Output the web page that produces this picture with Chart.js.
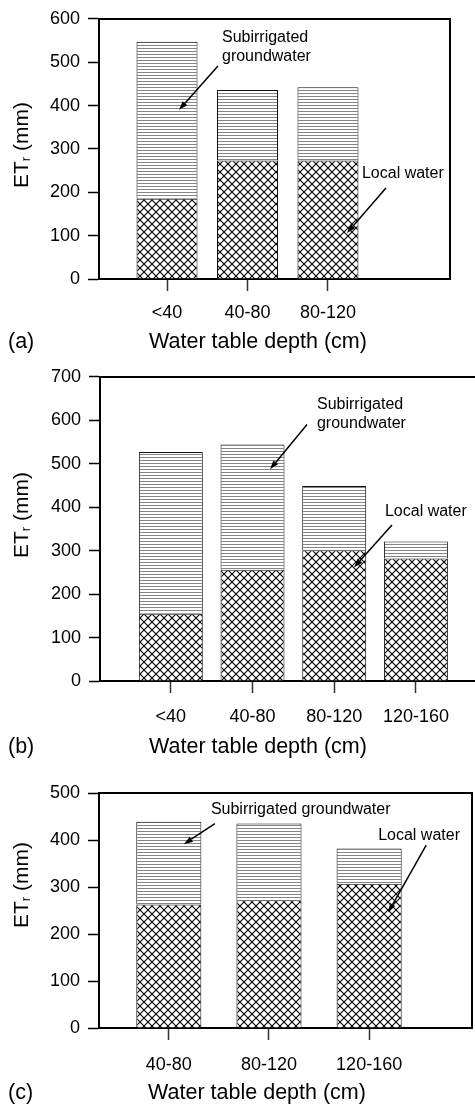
<!DOCTYPE html>
<html>
<head>
<meta charset="utf-8">
<script src="https://cdn.jsdelivr.net/npm/chart.js@4.4.1/dist/chart.umd.min.js"></script>
<style>
  html, body { margin: 0; padding: 0; background: #fff; }
  body { width: 475px; height: 1109px; position: relative; overflow: hidden; }
  .panel { position: absolute; left: 0; width: 475px; overflow: hidden; }
  #panelA { top: 0; height: 358px; }
  #panelB { top: 358px; height: 404px; }
  #panelC { top: 762px; height: 347px; }
  canvas { display: block; }
</style>
</head>
<body>
<div class="panel" id="panelA"><canvas id="chartA" width="475" height="358"></canvas></div>
<div class="panel" id="panelB"><canvas id="chartB" width="495" height="404"></canvas></div>
<div class="panel" id="panelC"><canvas id="chartC" width="475" height="347"></canvas></div>
<script>
const FONT = '"Liberation Sans", Arial, Helvetica, sans-serif'
Chart.defaults.font.family = FONT
Chart.defaults.color = '#000'

// (a)
const depthA = ['<40', '40-80', '80-120']
const localA = [185, 273, 273]
const subirrA = [362, 163, 169]
const yMaxA = 600

// (b)
const depthB = ['<40', '40-80', '80-120', '120-160']
const localB = [155, 256, 301, 282]
const subirrB = [372, 288, 148, 39]
const yMaxB = 700

// (c)
const depthC = ['40-80', '80-120', '120-160']
const localC = [263, 272, 307]
const subirrC = [176, 163, 75]
const yMaxC = 500

const yStep = 100
const xTitle = 'Water table depth (cm)'

function linePattern(ctx) {
  const c = document.createElement('canvas')
  c.width = 4
  c.height = 3
  const g = c.getContext('2d')
  g.fillStyle = '#fff'
  g.fillRect(0, 0, 4, 3)
  g.fillStyle = '#858585'
  g.fillRect(0, 0, 4, 1)
  return ctx.createPattern(c, 'repeat')
}

function crossPattern(ctx) {
  const c = document.createElement('canvas')
  c.width = 8
  c.height = 8
  const g = c.getContext('2d')
  g.fillStyle = '#fff'
  g.fillRect(0, 0, 8, 8)
  g.strokeStyle = '#000'
  g.lineWidth = 1.1
  g.beginPath()
  g.moveTo(-1, -1); g.lineTo(9, 9)
  g.moveTo(9, -1); g.lineTo(-1, 9)
  g.stroke()
  return ctx.createPattern(c, 'repeat')
}

// frame, titles, panel letter and the arrow notes
const figurePlugin = {
  id: 'figure',
  afterDraw(chart, args, opts) {
    const { ctx, chartArea: a, scales: { x, y } } = chart
    ctx.save()
    ctx.strokeStyle = '#000'
    ctx.fillStyle = '#000'
    ctx.lineWidth = 2
    ctx.beginPath()
    ctx.moveTo(a.left, Math.round(a.top))
    ctx.lineTo(Math.round(a.right), Math.round(a.top))
    if (opts.rightBorder) ctx.lineTo(Math.round(a.right), Math.round(a.bottom))
    ctx.stroke()

    // y title with subscript r
    ctx.save()
    ctx.translate(opts.yTitle.x, opts.yTitle.y)
    ctx.rotate(-Math.PI / 2)
    ctx.textBaseline = 'alphabetic'
    ctx.textAlign = 'left'
    ctx.font = '21px ' + FONT
    const wET = ctx.measureText('ET').width
    const wMM = ctx.measureText(' (mm)').width
    ctx.font = '13px ' + FONT
    const wR = ctx.measureText('r').width
    let sx = -(wET + wR + wMM) / 2
    ctx.font = '21px ' + FONT
    ctx.fillText('ET', sx, 7.5)
    sx += wET
    ctx.font = '13px ' + FONT
    ctx.fillText('r', sx, 10)
    sx += wR
    ctx.font = '21px ' + FONT
    ctx.fillText(' (mm)', sx, 7.5)
    ctx.restore()

    ctx.font = '21.5px ' + FONT
    ctx.textBaseline = 'alphabetic'
    ctx.textAlign = 'center'
    ctx.fillText(xTitle, opts.xTitle.x, opts.xTitle.y)
    ctx.textAlign = 'left'
    ctx.fillText(opts.letter, 8, opts.xTitle.y)

    ctx.font = '16px ' + FONT
    ctx.textBaseline = 'middle'
    opts.notes.forEach(n => {
      n.lines.forEach((t, i) => {
        ctx.fillText(t, x.getPixelForValue(n.x), y.getPixelForValue(n.y) + i * 19)
      })
    })

    ctx.lineWidth = 1.5
    opts.arrows.forEach(ar => {
      const fx = x.getPixelForValue(ar.from[0]), fy = y.getPixelForValue(ar.from[1])
      const tx = x.getPixelForValue(ar.to[0]), ty = y.getPixelForValue(ar.to[1])
      const ang = Math.atan2(ty - fy, tx - fx)
      const len = 9, hw = 3
      const bx = tx - len * Math.cos(ang), by = ty - len * Math.sin(ang)
      ctx.beginPath()
      ctx.moveTo(fx, fy)
      ctx.lineTo(bx, by)
      ctx.stroke()
      ctx.beginPath()
      ctx.moveTo(tx, ty)
      ctx.lineTo(bx + hw * Math.sin(ang), by - hw * Math.cos(ang))
      ctx.lineTo(bx - hw * Math.sin(ang), by + hw * Math.cos(ang))
      ctx.closePath()
      ctx.fill()
    })
    ctx.restore()
  }
}

function makeChart(id, p) {
  const canvas = document.getElementById(id)
  const ctx = canvas.getContext('2d')
  const idx = p.categories.map((c, i) => i)
  return new Chart(canvas, {
    type: 'bar',
    data: {
      datasets: [
        {
          label: 'Local water',
          data: idx.map(i => ({ x: i, y: p.local[i] })),
          backgroundColor: crossPattern(ctx),
          borderColor: '#111',
          borderWidth: 1,
          categoryPercentage: 1,
          barPercentage: p.barPct
        },
        {
          label: 'Subirrigated groundwater',
          data: idx.map(i => ({ x: i, y: p.subirr[i] })),
          backgroundColor: linePattern(ctx),
          borderColor: '#111',
          borderWidth: 1,
          categoryPercentage: 1,
          barPercentage: p.barPct
        }
      ]
    },
    options: {
      responsive: false,
      devicePixelRatio: 1,
      animation: false,
      layout: { padding: { top: p.padTop, right: p.padRight, left: 0, bottom: 0 } },
      plugins: {
        legend: { display: false },
        tooltip: { enabled: false },
        figure: p.figure
      },
      scales: {
        x: {
          type: 'linear',
          stacked: true,
          offset: false,
          bounds: 'data',
          min: p.xMin,
          max: p.xMax,
          afterBuildTicks: s => { s.ticks = idx.map(v => ({ value: v })) },
          afterFit: s => { s.height = p.xHeight },
          ticks: {
            callback: v => p.categories[v],
            font: { size: 18 },
            color: '#000',
            padding: p.xTickPad,
            maxRotation: 0,
            autoSkip: false
          },
          grid: { offset: false, drawOnChartArea: false, drawTicks: true, tickLength: 12, color: '#333', tickWidth: 1.5 },
          border: { display: true, color: '#000', width: 2 }
        },
        y: {
          stacked: true,
          min: 0,
          max: p.yMax,
          afterFit: s => { s.width = p.yWidth },
          ticks: { stepSize: yStep, font: { size: 18 }, color: '#000', padding: 8 },
          grid: { drawOnChartArea: false, drawTicks: true, tickLength: 11, color: '#000', tickWidth: 1.5 },
          border: { display: true, color: '#000', width: 2 }
        }
      }
    },
    plugins: [figurePlugin]
  })
}

makeChart('chartA', {
  categories: depthA, local: localA, subirr: subirrA, yMax: yMaxA,
  xMin: -0.845, xMax: 3.516, barPct: 0.758,
  padTop: 13, padRight: 25, yWidth: 99, xHeight: 79, xTickPad: 11,
  figure: {
    rightBorder: true, letter: '(a)',
    yTitle: { x: 20, y: 145 }, xTitle: { x: 258, y: 348 },
    notes: [
      { x: 0.683, y: 556, lines: ['Subirrigated', 'groundwater'] },
      { x: 2.422, y: 244, lines: ['Local water'] }
    ],
    arrows: [
      { from: [0.633, 491], to: [0.149, 390] },
      { from: [2.72, 210], to: [2.236, 106] }
    ]
  }
})

makeChart('chartB', {
  categories: depthB, local: localB, subirr: subirrB, yMax: yMaxB,
  xMin: -0.867, xMax: 3.907, barPct: 0.783,
  padTop: 17, padRight: 5, yWidth: 100, xHeight: 81, xTickPad: 13,
  figure: {
    rightBorder: false, letter: '(b)',
    yTitle: { x: 20, y: 157 }, xTitle: { x: 258, y: 395 },
    notes: [
      { x: 1.789, y: 636, lines: ['Subirrigated', 'groundwater'] },
      { x: 2.621, y: 389, lines: ['Local water'] }
    ],
    arrows: [
      { from: [1.667, 590], to: [1.214, 487] },
      { from: [2.707, 359], to: [2.242, 261] }
    ]
  }
})

makeChart('chartC', {
  categories: depthC, local: localC, subirr: subirrC, yMax: yMaxC,
  xMin: -0.697, xMax: 3.027, barPct: 0.65,
  padTop: 31, padRight: 3, yWidth: 99, xHeight: 81, xTickPad: 14,
  figure: {
    rightBorder: true, letter: '(c)',
    yTitle: { x: 20, y: 123 }, xTitle: { x: 257, y: 337 },
    notes: [
      { x: 0.42, y: 464, lines: ['Subirrigated groundwater'] },
      { x: 2.09, y: 410, lines: ['Local water'] }
    ],
    arrows: [
      { from: [0.46, 435], to: [0.15, 391] },
      { from: [2.57, 389], to: [2.19, 246] }
    ]
  }
})
</script>
</body>
</html>
